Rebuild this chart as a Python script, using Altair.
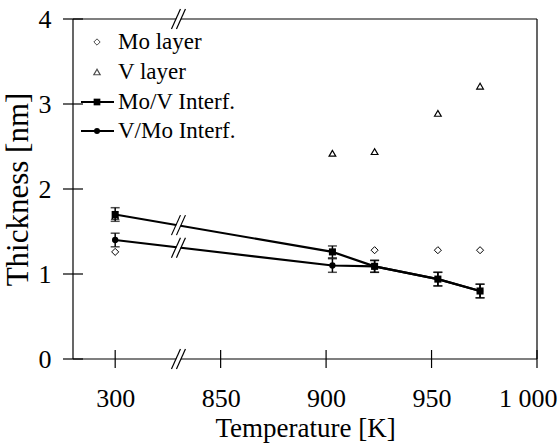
import altair as alt
import pandas as pd

# ---------------- data ----------------
temperature = [300, 903, 923, 953, 973]
mo_layer_T = [300, 923, 953, 973]
mo_layer = [1.26, 1.28, 1.28, 1.28]
v_layer = [1.68, 2.42, 2.44, 2.89, 3.21]
mov_interf = [1.70, 1.26, 1.09, 0.94, 0.80]
mov_err = [0.08, 0.07, 0.07, 0.08, 0.08]
vmo_interf = [1.40, 1.10, 1.09, 0.94, 0.80]
vmo_err = [0.08, 0.08, 0.07, 0.08, 0.08]

x_ticks = [300, 850, 900, 950, 1000]
x_tick_labels = ["300", "850", "900", "950", "1 000"]
y_ticks = [0, 1, 2, 3, 4]

legend_labels = ["Mo layer", "V layer", "Mo/V Interf.", "V/Mo Interf."]

# broken axis: 300 K is drawn at 800 on the axis, break drawn at 830
BREAK_SHIFT = 500
break_at = 830
line_break_y = [1.575, 1.31]
axis_break_y = [0, 4]


def pos(t):
    return t + BREAK_SHIFT if t < 800 else t


W, H = 464, 340
FONT = "Liberation Serif"

x_pos_ticks = [pos(t) for t in x_ticks]
label_expr = "".join(
    f"datum.value == {p} ? '{l}' : " for p, l in zip(x_pos_ticks, x_tick_labels)
) + "datum.label"

xscale = alt.Scale(domain=[780, 1000], nice=False, zero=False)
yscale = alt.Scale(domain=[0, 4], nice=False, zero=True)
xaxis = alt.Axis(
    values=x_pos_ticks, labelExpr=label_expr, ticks=False, domain=False, grid=False,
    labelFont=FONT, labelFontSize=26, labelColor="black", labelPadding=26,
    labelFlush=1, labelFlushOffset=20,
    title="Temperature [K]", titleFont=FONT, titleFontSize=27,
    titleFontWeight="normal", titleColor="black", titlePadding=4,
)
yaxis = alt.Axis(
    values=y_ticks, ticks=False, domain=False, grid=False,
    labelFont=FONT, labelFontSize=26, labelColor="black", labelPadding=22,
    title="Thickness [nm]", titleFont=FONT, titleFontSize=31,
    titleFontWeight="normal", titleColor="black", titlePadding=4,
)


def X(f):
    return alt.X(f, type="quantitative", scale=xscale, axis=xaxis)


def Y(f):
    return alt.Y(f, type="quantitative", scale=yscale, axis=yaxis)


# ---------------- tables ----------------
mov_df = pd.DataFrame({"x": [pos(t) for t in temperature], "y": mov_interf,
                       "lo": [v - e for v, e in zip(mov_interf, mov_err)],
                       "hi": [v + e for v, e in zip(mov_interf, mov_err)]})
vmo_df = pd.DataFrame({"x": [pos(t) for t in temperature], "y": vmo_interf,
                       "lo": [v - e for v, e in zip(vmo_interf, vmo_err)],
                       "hi": [v + e for v, e in zip(vmo_interf, vmo_err)]})
mo_df = pd.DataFrame({"x": [pos(t) for t in mo_layer_T], "y": mo_layer})
v_df = pd.DataFrame({"x": [pos(t) for t in temperature], "y": v_layer})

frame_df = pd.DataFrame({"x": [780, 780, 780, 1000], "x2": [780, 1000, 1000, 1000],
                         "y": [0, 0, 4, 0], "y2": [4, 0, 4, 4]})
ytick_df = pd.DataFrame({"y": y_ticks})
xtick_df = pd.DataFrame({"x": x_pos_ticks})
breaks_df = pd.DataFrame({"x": [break_at] * 4, "y": line_break_y + axis_break_y})
legend_df = pd.DataFrame({"label": legend_labels, "row": [23, 53, 83, 112]})
one = pd.DataFrame({"a": [0]})

layers = []

# frame
layers.append(alt.Chart(frame_df).mark_rule(color="black", strokeWidth=1.2).encode(
    x=X("x"), x2=alt.X2("x2"), y=Y("y"), y2=alt.Y2("y2")))
# crossing ticks
layers.append(alt.Chart(ytick_df).mark_rule(color="black", strokeWidth=1.2).encode(
    y=Y("y"), x=alt.value(-10), x2=alt.value(10)))
layers.append(alt.Chart(xtick_df).mark_rule(color="black", strokeWidth=1.2).encode(
    x=X("x"), y=alt.value(H - 9), y2=alt.value(H + 9)))

# lines
for df in (mov_df, vmo_df):
    layers.append(alt.Chart(df).mark_line(color="black", strokeWidth=2.2).encode(
        x=X("x"), y=Y("y"), order="x:Q"))

# break marks
layers.append(alt.Chart(breaks_df).mark_rule(
    color="white", strokeWidth=4, xOffset=-4, x2Offset=4, yOffset=9, y2Offset=-9).encode(
    x=X("x"), x2=alt.X2("x"), y=Y("y"), y2=alt.Y2("y")))
for d in (-2.5, 2.5):
    layers.append(alt.Chart(breaks_df).mark_rule(
        color="black", strokeWidth=1.2, xOffset=-4.5 + d, x2Offset=4.5 + d,
        yOffset=10, y2Offset=-10).encode(
        x=X("x"), x2=alt.X2("x"), y=Y("y"), y2=alt.Y2("y")))

# error bars
for df in (mov_df, vmo_df):
    layers.append(alt.Chart(df).mark_rule(color="black", strokeWidth=1.5).encode(
        x=X("x"), y=Y("lo"), y2=alt.Y2("hi")))
    for f in ("lo", "hi"):
        layers.append(alt.Chart(df).mark_tick(
            color="black", orient="horizontal", size=9, thickness=1.5).encode(
            x=X("x"), y=Y(f)))

# points
layers.append(alt.Chart(mo_df).mark_point(
    shape="diamond", size=50, filled=False, color="black", strokeWidth=1, fill="white", fillOpacity=1).encode(
    x=X("x"), y=Y("y")))
layers.append(alt.Chart(v_df).mark_point(
    shape="triangle-up", size=45, filled=False, color="black", strokeWidth=1.2, fill="white", fillOpacity=0).encode(
    x=X("x"), y=Y("y")))
layers.append(alt.Chart(vmo_df).mark_point(
    shape="circle", size=40, filled=True, color="black", opacity=1).encode(
    x=X("x"), y=Y("y")))
layers.append(alt.Chart(mov_df).mark_point(
    shape="square", size=50, filled=True, color="black", opacity=1).encode(
    x=X("x"), y=Y("y")))

# legend (inside the plot, top-left)
rows = list(legend_df["row"])
sym_x, txt_x = 24, 45
layers.append(alt.Chart(legend_df).mark_text(
    align="left", baseline="middle", font=FONT, fontSize=23, color="black").encode(
    text="label:N", x=alt.value(txt_x), y=alt.Y("row:Q", scale=None, axis=None)))
layers.append(alt.Chart(one).mark_point(
    shape="diamond", size=40, filled=False, color="black", strokeWidth=1).encode(
    x=alt.value(sym_x), y=alt.value(rows[0])))
layers.append(alt.Chart(one).mark_point(
    shape="triangle-up", size=40, filled=False, color="black", strokeWidth=1.2).encode(
    x=alt.value(sym_x), y=alt.value(rows[1])))
for ry, shp, sz in ((rows[2], "square", 45), (rows[3], "circle", 36)):
    layers.append(alt.Chart(one).mark_rule(color="black", strokeWidth=2.2).encode(
        x=alt.value(8), x2=alt.value(41), y=alt.value(ry)))
    layers.append(alt.Chart(one).mark_point(
        shape=shp, size=sz, filled=True, color="black", opacity=1).encode(
        x=alt.value(sym_x), y=alt.value(ry)))

chart = alt.layer(*layers).properties(
    width=W, height=H,
    autosize=alt.AutoSizeParams(type="none"),
    padding={"left": 73, "top": 19, "right": 22, "bottom": 86},
    background="white",
).configure(font=FONT).configure_text(font=FONT).configure_view(stroke=None)

chart.save("out.html", embed_options={"renderer": "svg", "actions": False})
